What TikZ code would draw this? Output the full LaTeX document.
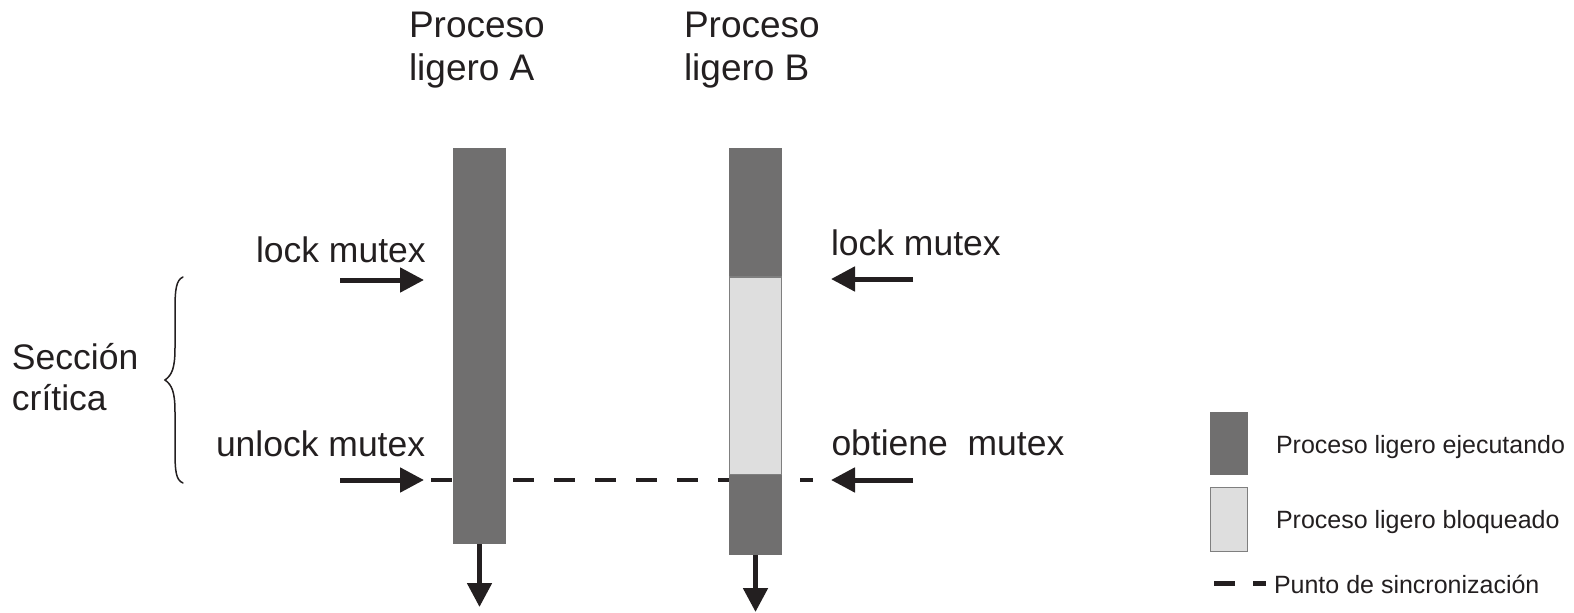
\documentclass[tikz,border=0pt]{standalone}
\usepackage{fontspec}
\setmainfont{Liberation Sans}
\usetikzlibrary{arrows.meta}
\definecolor{runfill}{HTML}{706F6F}
\definecolor{blockfill}{HTML}{DEDEDE}
\definecolor{blockline}{HTML}{7F7F7F}
\definecolor{ink}{HTML}{231F20}
\begin{document}
\begin{tikzpicture}[x=1pt,y=-1pt,
  every node/.style={inner sep=0pt,outer sep=0pt,text=ink},
  big/.style={font=\fontsize{35.5}{43}\selectfont,anchor=base west,align=left},
  title/.style={big,font=\fontsize{37}{43}\selectfont},
  small/.style={font=\fontsize{25}{30}\selectfont,anchor=base west},
  runbox/.style={draw=none,fill=runfill,anchor=north west,minimum width=53pt},
  blockbox/.style={draw=blockline,line width=1.3pt,fill=blockfill,anchor=north west,minimum width=52pt},
  flow/.style={draw=ink,line width=5pt,-{Triangle[length=24pt,width=24pt]}},
  sync/.style={draw=ink,line width=4.7pt,dash pattern=on 21pt off 20pt},
  brace/.style={draw=ink,line width=1.5pt,line cap=round}]
\useasboundingbox (0,0) rectangle (1574,613);

% thread titles (anchored at the baseline of their last line)
\node[title] (titleA) at (409,80) {Proceso\\ligero A};
\node[title] (titleB) at (684,80) {Proceso\\ligero B};

% synchronisation line (drawn under the bars)
\coordinate (syncL) at (431,480);
\coordinate (syncR) at (813,480);
\draw[sync] (syncL) -- (syncR);

% thread A: running all the time
\node[runbox,minimum height=396pt] (barA) at (453,148) {};
% thread B: running, blocked on the mutex, running again
\node[runbox,minimum height=129pt] (barB1) at (729,148) {};
\node[blockbox,minimum height=198pt] (barB2) at (729.5,277) {};
\node[runbox,minimum height=80pt] (barB3) at (729,475) {};

% time continues downwards
\coordinate (endA) at (479.5,607);
\coordinate (endB) at (755.5,612);
\draw[flow] (barA.south) -- (endA);
\draw[flow] (barB3.south) -- (endB);

% events on thread A
\node[big] (lockA) at (256,262) {lock mutex};
\node[big] (unlockA) at (216,456) {unlock mutex};
\coordinate (lockAfrom) at (340,280);
\coordinate (lockAto) at (424,280);
\coordinate (unlockAfrom) at (340,480);
\coordinate (unlockAto) at (424,480);
\draw[flow] (lockAfrom) -- (lockAto);
\draw[flow] (unlockAfrom) -- (unlockAto);

% events on thread B
\node[big] (lockB) at (831,255) {lock mutex};
\node[big] (getB) at (831.5,455) {obtiene\ \ mutex};
\coordinate (lockBfrom) at (913,279);
\coordinate (lockBto) at (831,279);
\coordinate (getBfrom) at (913,480);
\coordinate (getBto) at (831,480);
\draw[flow] (lockBfrom) -- (lockBto);
\draw[flow] (getBfrom) -- (getBto);

% critical section
\node[big,font=\fontsize{35.5}{41}\selectfont] (crit) at (12,410) {Sección\\crítica};
\draw[brace] (183,277) .. controls (176,280) and (175,290) .. (175,310)
  -- (175,348) .. controls (175,368) and (172,375) .. (165,380)
  .. controls (172,385) and (175,392) .. (175,412)
  -- (175,450) .. controls (175,472) and (176,480) .. (183,483);

% legend
\node[runbox,minimum width=38pt,minimum height=63pt] (keyRun) at (1210,412) {};
\node[blockbox,minimum width=37pt,minimum height=64pt] (keyBlock) at (1210.5,487.5) {};
\node[small] (keyRunText) at (1276,453) {Proceso ligero ejecutando};
\node[small] (keyBlockText) at (1276,528) {Proceso ligero bloqueado};
\coordinate (keySyncL) at (1214,583);
\coordinate (keySyncR) at (1266,583);
\draw[draw=ink,line width=5pt,dash pattern=on 21pt off 18pt on 13pt off 20pt] (keySyncL) -- (keySyncR);
\node[small] (keySyncText) at (1274,593) {Punto de sincronización};
\end{tikzpicture}
\end{document}
